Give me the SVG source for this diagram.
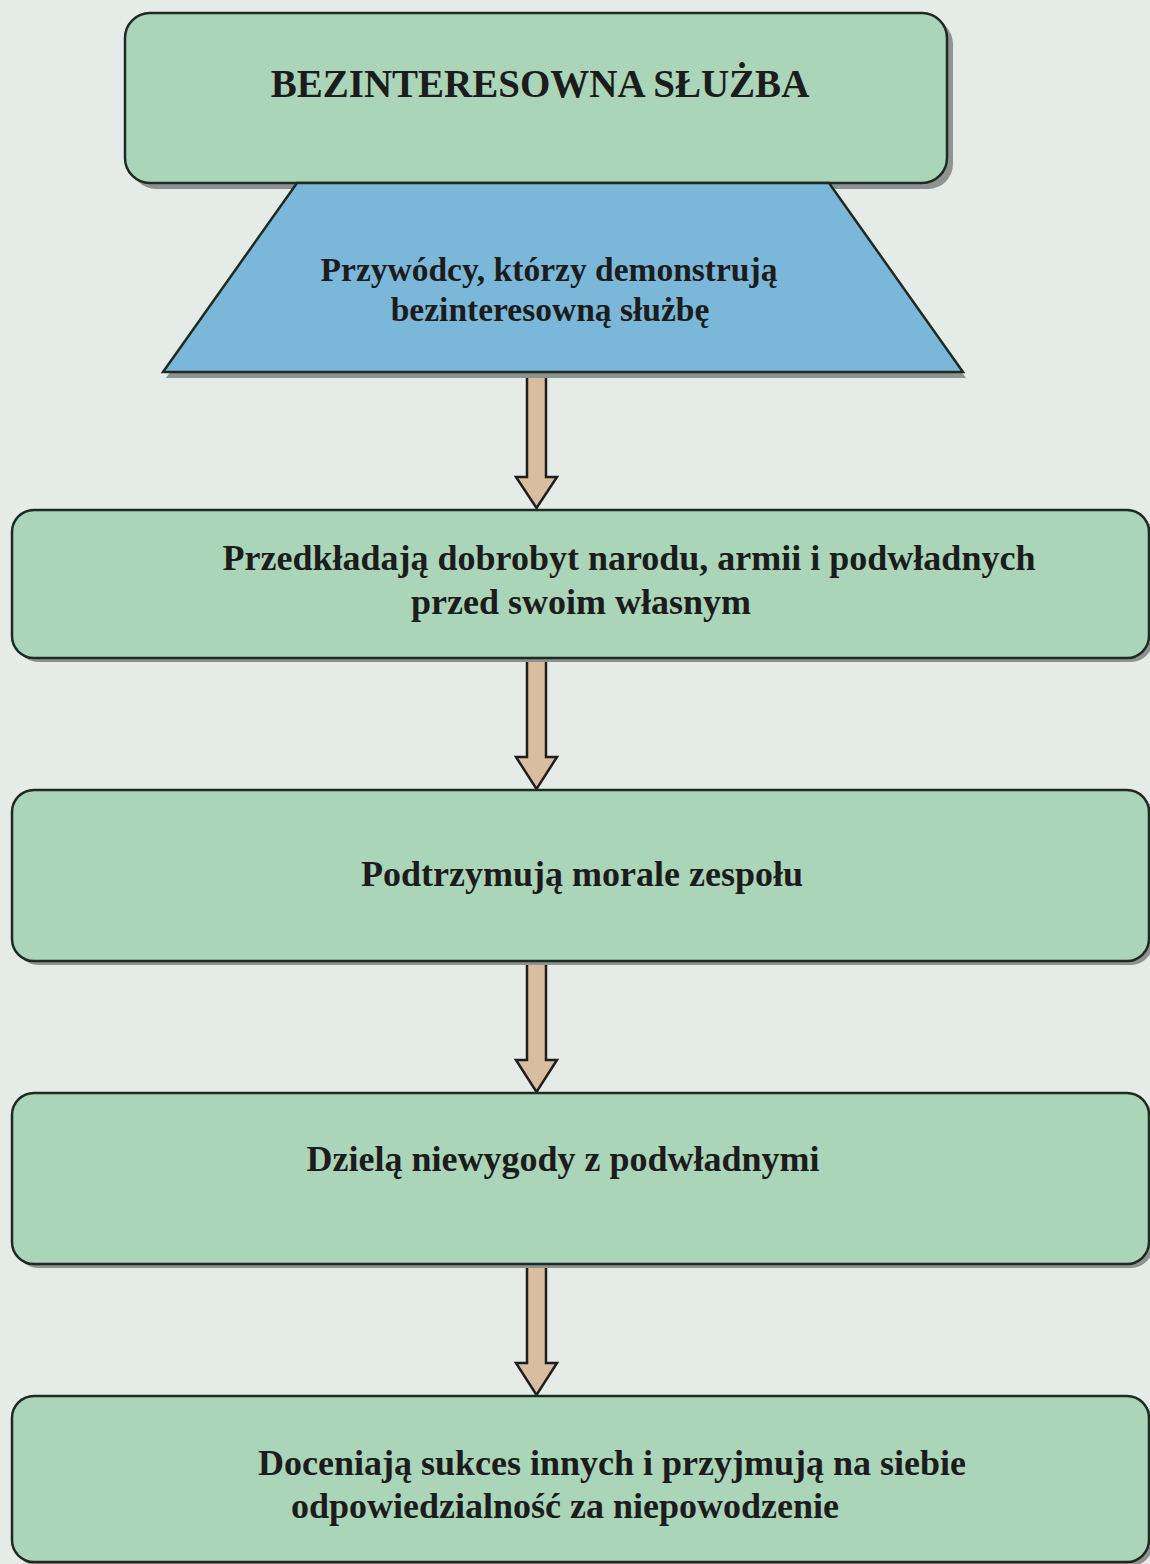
<svg xmlns="http://www.w3.org/2000/svg" width="1150" height="1564" viewBox="0 0 1150 1564">
  <style>
    .box { fill: #abd5b8; stroke: #1e2a22; stroke-width: 2.5; }
    .trap { fill: #7ab7d8; stroke: #1e2a22; stroke-width: 2.5; }
    .shadow { fill: #8e9290; }
    .arrow { fill: #d8bd9e; stroke: #1e1e1e; stroke-width: 2.5; stroke-linejoin: miter; }
    .lbl { font-family: "Liberation Serif", "Times New Roman", serif; font-weight: bold; fill: #1c1c1c; text-anchor: middle; }
    .title { font-size: 39px; }
    .mid { font-size: 33.5px; }
    .txt { font-size: 36px; }
  </style>

  <rect width="1150" height="1564" fill="#e5ebe6"/>

  <!-- connectors: tan block arrows between stages -->
  <g id="connectors">
    <path class="arrow" d="M527,373 V477 H516 L536.5,508 L557,477 H546 V373 Z"/>
    <path class="arrow" d="M527,658 V757 H516 L536.5,789 L557,757 H546 V658 Z"/>
    <path class="arrow" d="M527,962 V1060 H516 L536.5,1092 L557,1060 H546 V962 Z"/>
    <path class="arrow" d="M527,1265 V1363 H516 L536.5,1395 L557,1363 H546 V1265 Z"/>
  </g>

  <!-- header box -->
  <g id="node-title">
    <rect class="shadow" x="131" y="19" width="822" height="170" rx="25"/>
    <rect class="box" x="125" y="13" width="822" height="170" rx="25"/>
    <text class="lbl title" x="540" y="97">BEZINTERESOWNA SŁUŻBA</text>
  </g>

  <!-- leaders trapezoid -->
  <g id="node-leaders">
    <polygon class="shadow" points="297,189 829,189 966,378 166,378"/>
    <polygon class="trap" points="297,183 829,183 963,372 163,372"/>
    <text class="lbl mid" x="549" y="281">Przywódcy, którzy demonstrują</text>
    <text class="lbl mid" x="550" y="321">bezinteresowną służbę</text>
  </g>

  <g id="node-welfare">
    <rect class="shadow" x="16" y="514" width="1137" height="148" rx="22"/>
    <rect class="box" x="12" y="510" width="1137" height="148" rx="22"/>
    <text class="lbl txt" x="629" y="570">Przedkładają dobrobyt narodu, armii i podwładnych</text>
    <text class="lbl txt" x="581" y="614">przed swoim własnym</text>
  </g>

  <g id="node-morale">
    <rect class="shadow" x="16" y="794" width="1137" height="171" rx="22"/>
    <rect class="box" x="12" y="790" width="1137" height="171" rx="22"/>
    <text class="lbl txt" x="582" y="886">Podtrzymują morale zespołu</text>
  </g>

  <g id="node-hardship">
    <rect class="shadow" x="16" y="1097" width="1137" height="171" rx="22"/>
    <rect class="box" x="12" y="1093" width="1137" height="171" rx="22"/>
    <text class="lbl txt" x="563" y="1171">Dzielą niewygody z podwładnymi</text>
  </g>

  <g id="node-credit">
    <rect class="shadow" x="16" y="1400" width="1137" height="166" rx="22"/>
    <rect class="box" x="12" y="1396" width="1137" height="166" rx="22"/>
    <text class="lbl txt" x="612" y="1475">Doceniają sukces innych i przyjmują na siebie</text>
    <text class="lbl txt" x="565" y="1518">odpowiedzialność za niepowodzenie</text>
  </g>
</svg>
